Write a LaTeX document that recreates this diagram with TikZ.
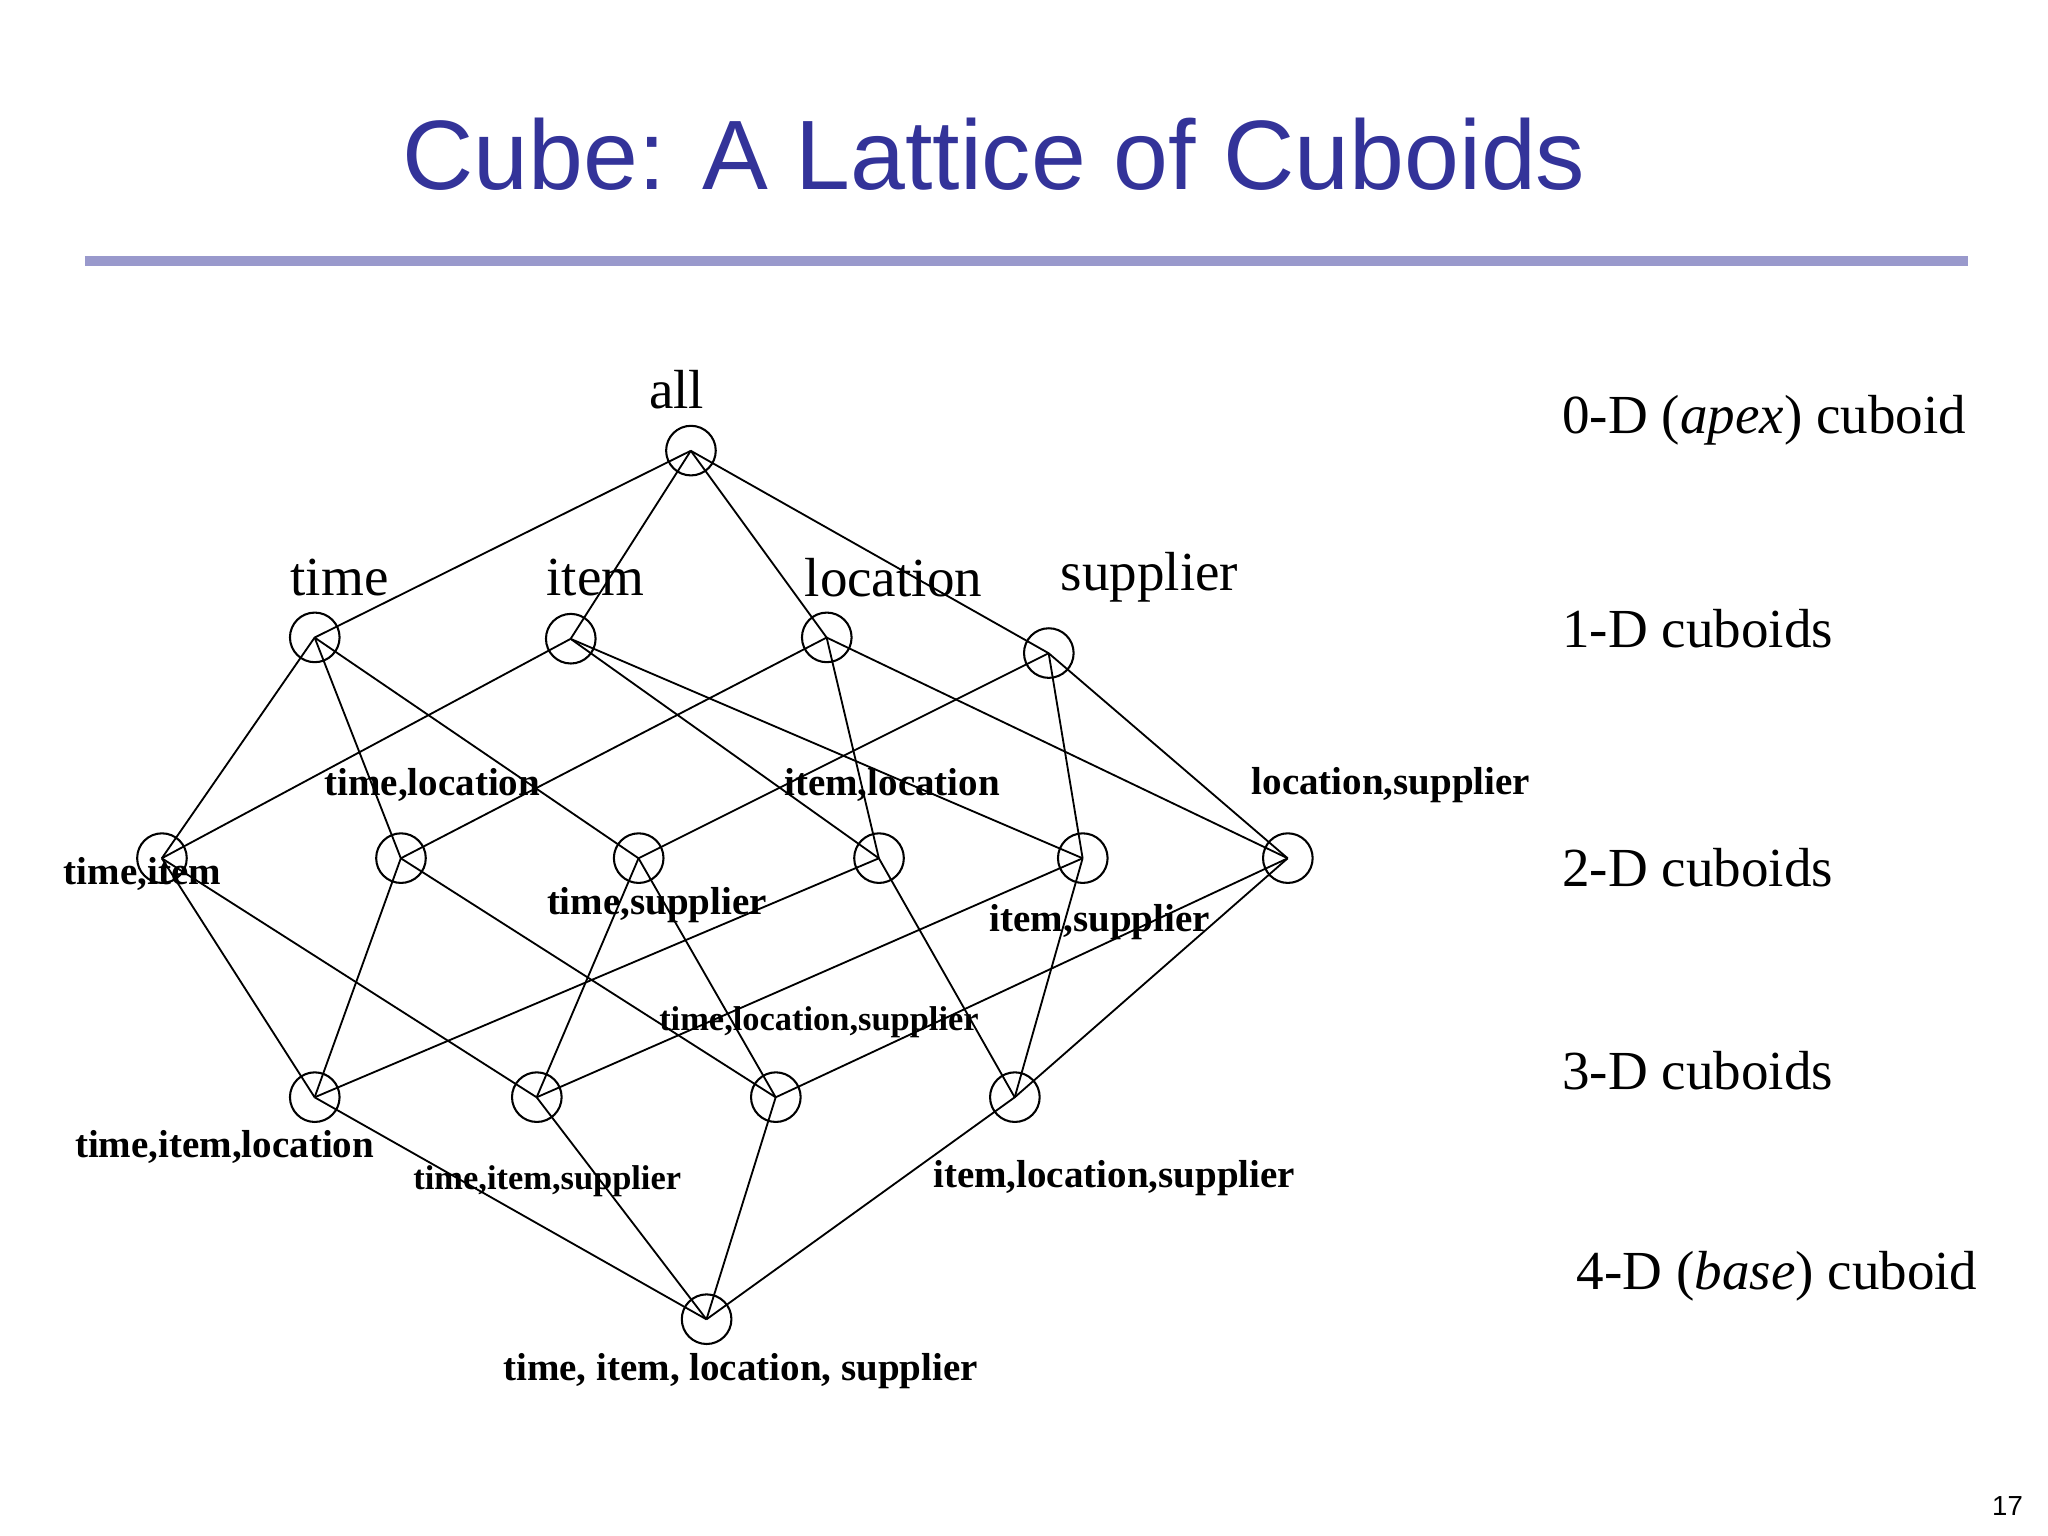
\documentclass[tikz,border=0pt]{standalone}
\usepackage{fontspec}
\setmainfont{Liberation Serif}
\newfontfamily\titlefont{Liberation Sans}
\definecolor{titleblue}{RGB}{51,51,153}
\definecolor{rulecol}{RGB}{153,153,204}
\begin{document}
\begin{tikzpicture}[x=0.02cm,y=-0.02cm,
  cub/.style={circle,draw,line width=0.9pt,minimum size=0.76cm,inner sep=0pt},
  edge/.style={line width=0.8pt},
  big/.style={font=\fontsize{24}{28}\selectfont},
  lab/.style={font=\bfseries\fontsize{17}{20}\selectfont},
  slab/.style={font=\bfseries\fontsize{15}{18}\selectfont}]
\useasboundingbox (0,0) rectangle (1568,1176);
\node[font=\titlefont\fontsize{43}{50}\selectfont,text=titleblue] (title) at (761,118) {Cube: A Lattice of Cuboids};
\draw[rulecol,line width=4.5pt] (65,200) -- (1507,200);
\node[font=\titlefont\fontsize{12}{14}\selectfont] (pg) at (1537,1153) {17};
% nodes
\node[cub] (all) at (529,345) {};
\node[cub] (t) at (241,488) {};
\node[cub] (i) at (437,489) {};
\node[cub] (l) at (633,488) {};
\node[cub] (s) at (803,500) {};
\node[cub] (ti) at (124,657) {};
\node[cub] (tl) at (307,657) {};
\node[cub] (ts) at (489,657) {};
\node[cub] (il) at (673,657) {};
\node[cub] (is) at (829,657) {};
\node[cub] (ls) at (986,657) {};
\node[cub] (til) at (241,840) {};
\node[cub] (tis) at (411,840) {};
\node[cub] (tls) at (594,840) {};
\node[cub] (ils) at (777,840) {};
\node[cub] (tils) at (541,1010) {};
% labels
\node[big] (lall) at (518,298) {all};
\node[big] (lt) at (260,442) {time};
\node[big] (li) at (456,442) {item};
\node[big] (ll) at (684,442) {location};
\node[big] (ls1) at (880,442) {supplier};
\node[lab] (lti) at (109,669) {time,item};
\node[lab] (ltl) at (331,601) {time,location};
\node[lab] (lts) at (503,693) {time,supplier};
\node[lab] (lil) at (683,601) {item,location};
\node[lab] (lis) at (842,706) {item,supplier};
\node[lab] (lls) at (1065,601) {location,supplier};
\node[slab] (ltls) at (627,783) {time,location,supplier};
\node[lab] (ltil) at (172,878) {time,item,location};
\node[slab] (ltis) at (419,904) {time,item,supplier};
\node[lab] (lils) at (853,902) {item,location,supplier};
\node[lab] (ltils) at (567,1050) {time, item, location, supplier};
\node[big,anchor=west] (r0) at (1190,322) {0-D (\textit{apex}) cuboid};
\node[big,anchor=west] (r1) at (1190,481) {1-D cuboids};
\node[big,anchor=west] (r2) at (1190,664) {2-D cuboids};
\node[big,anchor=west] (r3) at (1190,820) {3-D cuboids};
\node[big,anchor=west] (r4) at (1201,977) {4-D (\textit{base}) cuboid};
% edges
\foreach \a/\b in {all/t,all/i,all/l,all/s,
 t/ti,t/tl,t/ts, i/ti,i/il,i/is, l/tl,l/il,l/ls, s/ts,s/is,s/ls,
 ti/til,ti/tis, tl/til,tl/tls, ts/tis,ts/tls, il/til,il/ils, is/tis,is/ils, ls/tls,ls/ils,
 til/tils,tis/tils,tls/tils,ils/tils}
  \draw[edge] ([shift={(-0.12,0.12)}]\a.center) -- ([shift={(-0.12,0.12)}]\b.center);
\end{tikzpicture}
\end{document}
